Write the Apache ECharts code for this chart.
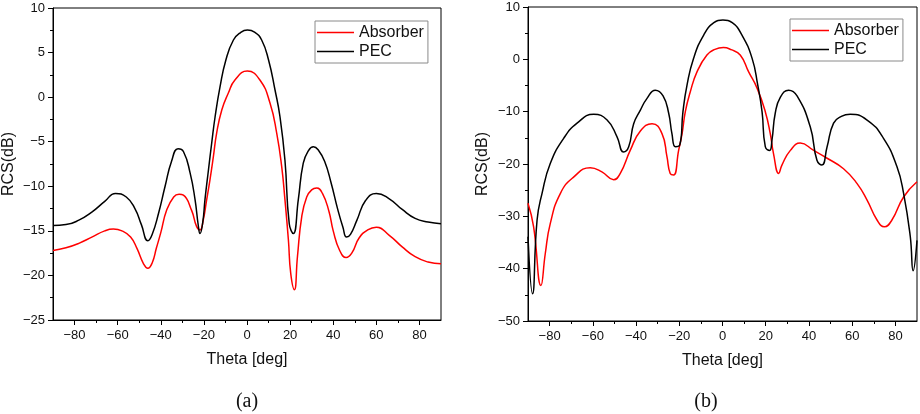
<!DOCTYPE html>
<html>
<head>
<meta charset="utf-8">
<script src="https://cdn.jsdelivr.net/npm/echarts@6/dist/echarts.min.js"></script>
<style>html,body{margin:0;padding:0;background:#fff}#c{width:920px;height:414px}</style>
</head>
<body>
<div id="c"></div>
<script>
// ---- Panel (a) ----
const thetaAbsA = [-90,-84,-78,-72,-66,-62,-58,-54,-51,-48,-46,-44,-42,-40,-37.3,-34,-31.5,-29.5,-25.7,-23.4,
                   -21.8,-20.3,-18.7,-17.2,-15.6,-14.1,-11.7,-8.7,-5.6,0.15,6,10.7,13.8,16.1,17.6,19.2,20.3,22,
                   23.4,25.4,27.7,30,32.3,35,38,40,43,46,48.6,52,56,60,66,72,78,84,90];
const absA      = [-17.2,-16.9,-16.4,-15.7,-15.0,-14.8,-15.0,-15.7,-17.0,-18.7,-19.2,-18.6,-16.9,-15.2,-12.7,-11.2,-10.9,-11.0,-12.7,-14.5,
                   -14.9,-13.8,-11.5,-9.3,-6.68,-4.06,-1.44,0.43,1.92,2.93,1.92,-0.69,-4.06,-7.8,-11.5,-16,-19.8,-21.6,
                   -17.9,-13.4,-11.2,-10.4,-10.2,-10.8,-12.8,-15.0,-17.2,-18.0,-17.5,-15.8,-14.9,-14.6,-15.5,-16.8,-17.9,-18.5,-18.7];
const thetaPecA = [-90,-84,-78,-72,-66,-61,-56,-52,-49,-46,-44,-41,-38,-35,-32,-29.5,-26.4,-24.1,-22.6,
                   -21.8,-20.5,-19.5,-17.9,-16.4,-14.8,-12.5,-9.8,-6.3,-3,0.2,3.5,6.8,10,13,15.3,17.6,19.6,21.5,23.8,
                   26.1,28.5,30.8,33,36,39,42,44.5,46.2,48,51,55,60,66,72,78,84,90];
const pecA      = [-14.4,-14.3,-13.8,-12.9,-11.7,-10.8,-11.2,-12.5,-14.3,-16.1,-15.4,-13.0,-10.0,-7.2,-5.8,-6.1,-8.5,-11.5,-14.4,
                   -15.3,-14.0,-11.5,-8.2,-5.2,-2.2,1.17,4.17,6.41,7.25,7.53,7.3,6.41,4.17,0.8,-2.2,-7.05,-14.2,-15.3,-11.5,
                   -7.4,-6.0,-5.56,-5.9,-7.2,-9.6,-12.5,-14.6,-15.7,-15.4,-13.8,-11.6,-10.8,-11.4,-12.6,-13.6,-14.0,-14.2];

// ---- Panel (b) ----
const thetaAbsB = [-90,-87.4,-84,-82,-79.7,-75,-68.9,-61.2,-55.8,-50.4,-47.3,-42.7,-38,-32.6,-28,-25.7,-24.2,-22.6,-20.3,-18.7,
                   -17.2,-14.9,-11.8,-7.2,-3.5,0.4,4,8.2,12.1,16,19.8,22.1,23.6,26,27.5,31.4,36,42.2,48.4,56,
                   62.2,66.9,71.5,74.9,78.4,83.8,90];
const absB      = [-27.5,-32,-43.2,-37.1,-31.4,-25.6,-22.5,-20.7,-21.5,-23.0,-21.8,-17.4,-13.7,-12.3,-14.2,-18.6,-21.8,-22.1,-17.4,-14.2,
                   -10,-6.2,-2.4,0.82,1.9,2.24,1.85,0.82,-2.4,-5.5,-10,-14.2,-18.0,-21.8,-20.2,-17.4,-16.0,-17.4,-18.9,-20.9,
                   -23.7,-26.9,-30.7,-32.0,-30.7,-26.3,-23.4];
const thetaPecB = [-90,-87.9,-85.8,-83.5,-79.7,-73.5,-67.3,-59.6,-53.4,-48.8,-45.8,-43.4,-41.1,-38,-35,-31.1,-27.5,-24.9,-23.4,-21.8,
                   -19.8,-18.3,-16.4,-13.4,-8.7,-4,0.2,4.5,9,13.7,16.3,18.3,19.8,21.8,22.9,24.4,26.8,30.6,34.5,40.6,
                   43.7,46,48.4,51.4,55,59.1,66.9,74.5,80.7,83.8,86.9,88.2,90];
const pecB      = [-33.9,-44.8,-30.7,-25.6,-19.9,-15.1,-12.2,-10.5,-11.6,-14.8,-17.7,-16.7,-12.3,-9.7,-7.5,-5.9,-7.0,-10.3,-14.2,-16.7,
                   -16.4,-10,-4.9,0.18,4.64,7.0,7.5,7.0,4.64,0.18,-4.9,-10,-16.7,-17.4,-15.4,-10.3,-7.2,-5.9,-7.0,-12.9,
                   -19.3,-20.2,-16.7,-12.2,-10.9,-10.5,-11.6,-15.1,-20.5,-25.6,-33.9,-40.4,-34.6];

const xMajorTicks = [-80,-60,-40,-20,0,20,40,60,80];
const xMinorTicks = [-70,-50,-30,-10,10,30,50,70];
const seriesNames = ['Absorber','PEC'];
const panelLabels = ['(a)','(b)'];
const xName = 'Theta [deg]';
const yName = 'RCS(dB)';

const pairs = (xs, ys) => xs.map((x, i) => [x, ys[i]]);
const fmt = v => String(v).replace('-', '\u2212');
const FONT = 'Liberation Sans, Arial, sans-serif';
const TXT = '#111';

function xAxes(gi) {
  return [
    {
      type: 'value', gridIndex: gi, position: 'bottom', min: -90, max: 90,
      name: xName, nameLocation: 'middle', nameGap: 32,
      nameTextStyle: {fontSize: 16, fontFamily: FONT, color: TXT},
      axisLine: {show: true, onZero: false, lineStyle: {color: '#000', width: 1}},
      axisTick: {show: true, customValues: xMajorTicks, length: 5, lineStyle: {color: '#000'}},
      axisLabel: {customValues: xMajorTicks, margin: 9, fontSize: 13, fontFamily: FONT, color: TXT, formatter: fmt},
      splitLine: {show: false}
    },
    {
      type: 'value', gridIndex: gi, position: 'bottom', min: -90, max: 90,
      axisLine: {show: false, onZero: false},
      axisTick: {show: true, customValues: xMinorTicks, length: 3, lineStyle: {color: '#000'}},
      axisLabel: {show: false},
      splitLine: {show: false}
    }
  ];
}
function yAxis(gi, min, max, interval, gap) {
  return {
    type: 'value', gridIndex: gi, min: min, max: max, interval: interval,
    name: yName, nameLocation: 'middle', nameGap: gap,
    nameTextStyle: {fontSize: 16, fontFamily: FONT, color: TXT},
    axisLine: {show: true, onZero: false, lineStyle: {color: '#000', width: 1}},
    axisTick: {show: true, length: 5, lineStyle: {color: '#000'}},
    minorTick: {show: true, splitNumber: 2, length: 3, lineStyle: {color: '#000'}},
    axisLabel: {margin: 8, fontSize: 13, fontFamily: FONT, color: TXT, formatter: fmt},
    splitLine: {show: false}, minorSplitLine: {show: false}
  };
}
function legend(left, top) {
  return {
    left: left, top: top, orient: 'vertical', data: seriesNames,
    icon: 'rect', itemWidth: 37, itemHeight: 1.6, itemGap: 0,
    padding: [2, 4, 2, 2], borderColor: '#8a8a8a', borderWidth: 1,
    backgroundColor: '#fff', selectedMode: false,
    textStyle: {fontSize: 16, fontFamily: FONT, color: TXT, lineHeight: 19}
  };
}
function line(name, data, color, xi, yi) {
  return {
    type: 'line', name: name, data: data, xAxisIndex: xi, yAxisIndex: yi,
    symbol: 'none', smooth: 0.5,
    lineStyle: {color: color, width: 1.5}, itemStyle: {color: color},
    animation: false
  };
}

const chart = echarts.init(document.getElementById('c'), null, {renderer: 'canvas'});
chart.setOption({
  backgroundColor: '#fff',
  animation: false,
  grid: [
    {left: 53, right: 479, top: 8, bottom: 94, show: true, borderColor: '#000', borderWidth: 1, backgroundColor: 'transparent'},
    {left: 528, right: 3, top: 7, bottom: 93, show: true, borderColor: '#000', borderWidth: 1, backgroundColor: 'transparent'}
  ],
  xAxis: [...xAxes(0), ...xAxes(1)],
  yAxis: [yAxis(0, -25, 10, 5, 36), yAxis(1, -50, 10, 10, 37)],
  legend: [legend(315, 21), legend(790, 19)],
  series: [
    line(seriesNames[0], pairs(thetaAbsA, absA), '#ff0000', 0, 0),
    line(seriesNames[1], pairs(thetaPecA, pecA), '#000000', 0, 0),
    line(seriesNames[0], pairs(thetaAbsB, absB), '#ff0000', 2, 1),
    line(seriesNames[1], pairs(thetaPecB, pecB), '#000000', 2, 1)
  ],
  graphic: [
    {type: 'text', x: 247, y: 402, style: {text: panelLabels[0], fontSize: 20, fontFamily: 'Liberation Serif, Times New Roman, serif', fill: TXT, align: 'center', verticalAlign: 'middle'}},
    {type: 'text', x: 706, y: 402, style: {text: panelLabels[1], fontSize: 20, fontFamily: 'Liberation Serif, Times New Roman, serif', fill: TXT, align: 'center', verticalAlign: 'middle'}}
  ]
});
</script>
</body>
</html>
